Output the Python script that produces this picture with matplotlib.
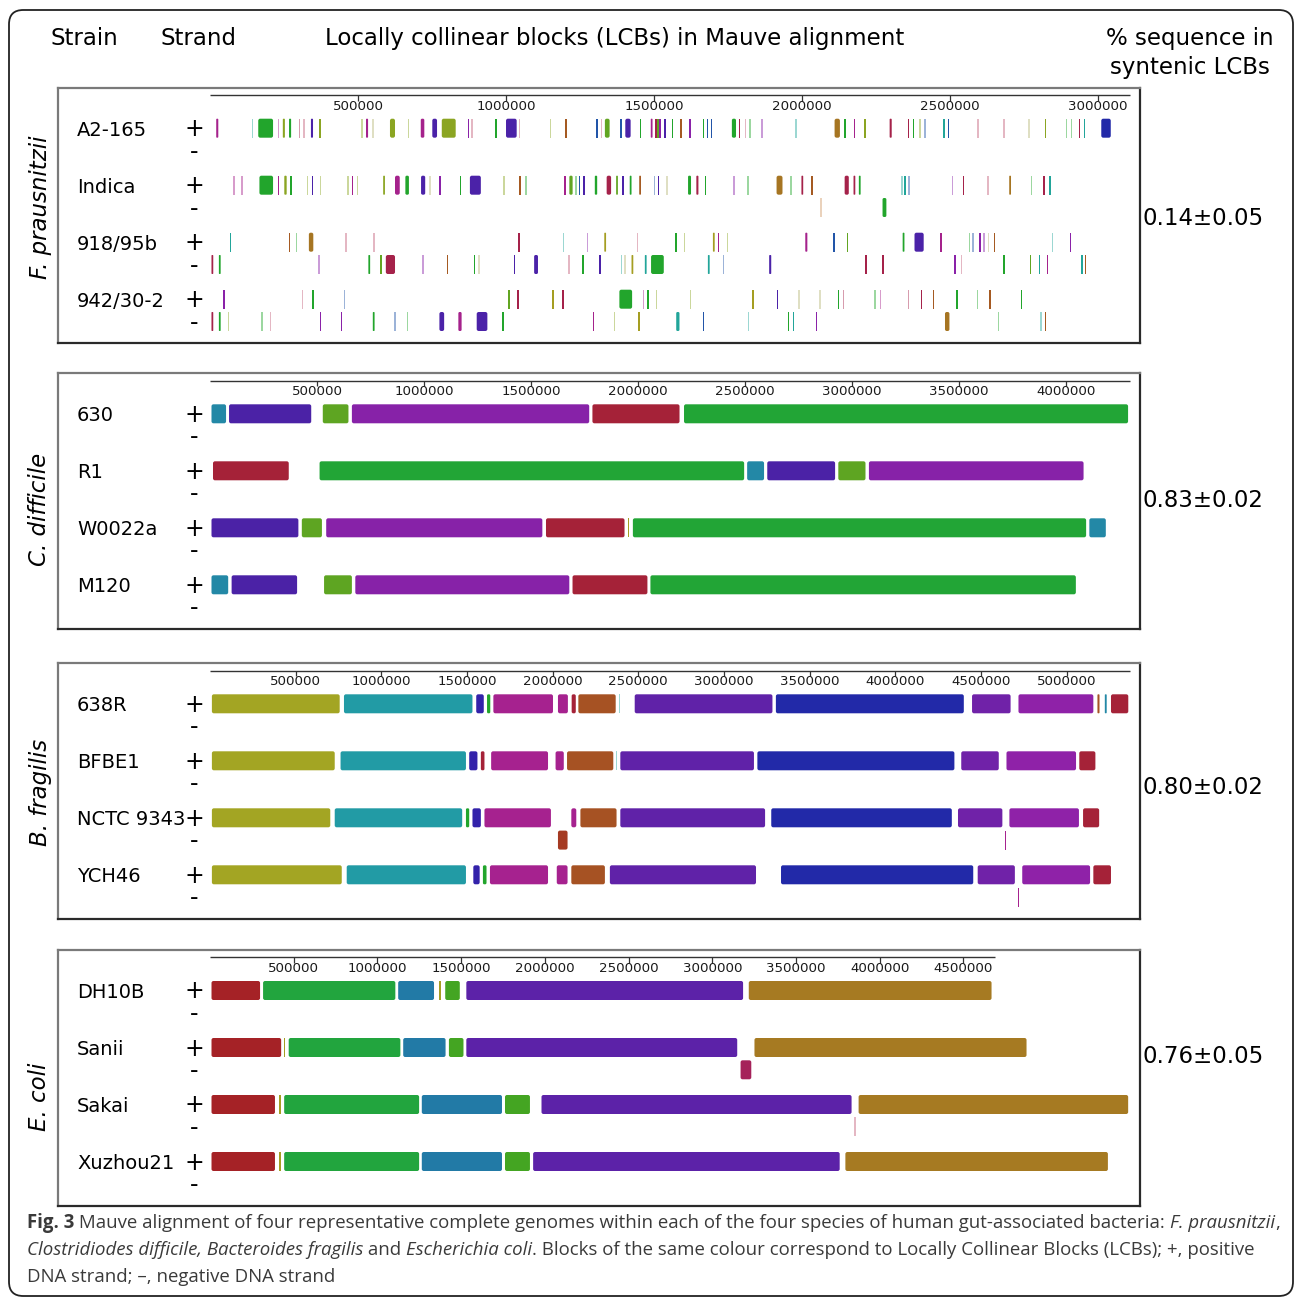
import matplotlib
matplotlib.use("Agg")
import matplotlib.pyplot as plt
from matplotlib.patches import FancyBboxPatch
from matplotlib.colors import to_rgb
from matplotlib.font_manager import FontProperties

# ======================= DATA =======================
species = ["F. prausnitzii", "C. difficile", "B. fragilis", "E. coli"]
syntenic_pct = ["0.14\u00b10.05", "0.83\u00b10.02", "0.80\u00b10.02", "0.76\u00b10.05"]

strains_fp = ["A2-165", "Indica", "918/95b", "942/30-2"]
strains_cd = ["630", "R1", "W0022a", "M120"]
strains_bf = ["638R", "BFBE1", "NCTC 9343", "YCH46"]
strains_ec = ["DH10B", "Sanii", "Sakai", "Xuzhou21"]

# ruler ticks (bp) and ruler length (kb) of the reference genome in each panel
ticks_fp = [500000, 1000000, 1500000, 2000000, 2500000, 3000000]
ticks_cd = [500000, 1000000, 1500000, 2000000, 2500000, 3000000, 3500000, 4000000]
ticks_bf = [500000, 1000000, 1500000, 2000000, 2500000, 3000000, 3500000, 4000000, 4500000, 5000000]
ticks_ec = [500000, 1000000, 1500000, 2000000, 2500000, 3000000, 3500000, 4000000, 4500000]
ruler_len_kb = [3108, 4299, 5370, 4687]
# genomic extent (kb) shown across the common drawing width of each panel
span_kb = [3108, 4299, 5370, 5495]

# LCB segments: (start_kb, end_kb, colour key); start == end marks a tiny block
fp_a2165_plus = [(21, 28, 'magenta'), (143, 143, 'teal_l'), (163, 213, 'green'), (231, 231, 'magenta_l'),
                 (246, 253, 'olive'), (267, 274, 'green'), (302, 302, 'crimson_l'), (318, 318, 'pink_l'),
                 (341, 348, 'indigo'), (371, 371, 'olive'), (514, 514, 'olive_l'), (527, 534, 'magenta'),
                 (550, 550, 'beige_l'), (608, 625, 'olive'), (670, 670, 'olive_l'), (712, 724, 'magenta'),
                 (751, 767, 'indigo'), (783, 830, 'olive'), (873, 873, 'purple'), (885, 885, 'pink_l'),
                 (967, 967, 'green'), (1000, 1036, 'indigo'), (1046, 1046, 'pink_l'), (1150, 1150, 'olive_l'),
                 (1200, 1205, 'brown'), (1308, 1308, 'blue'), (1322, 1322, 'pink_l'), (1334, 1350, 'olivegreen'),
                 (1389, 1389, 'blue'), (1403, 1421, 'indigo'), (1455, 1455, 'green'), (1489, 1495, 'magenta'),
                 (1507, 1507, 'crimson'), (1513, 1513, 'olivegreen'), (1521, 1521, 'purple'), (1537, 1537, 'indigo'),
                 (1563, 1563, 'green'), (1591, 1591, 'brown'), (1622, 1622, 'purple'), (1667, 1667, 'green'),
                 (1681, 1681, 'blue'), (1695, 1695, 'blue'), (1763, 1777, 'green'), (1789, 1789, 'crimson'),
                 (1809, 1809, 'pink_l'), (1824, 1824, 'green_l'), (1865, 1865, 'purple_l'), (1980, 1980, 'teal_l'),
                 (2110, 2128, 'gold'), (2145, 2145, 'green'), (2177, 2177, 'magenta'), (2212, 2212, 'olive'),
                 (2296, 2303, 'crimson'), (2359, 2359, 'crimson'), (2376, 2376, 'green'), (2398, 2398, 'olive_l'),
                 (2415, 2415, 'blue_l'), (2479, 2479, 'teal'), (2495, 2495, 'blue'), (2594, 2594, 'pink_l'),
                 (2682, 2682, 'pink_l'), (2767, 2767, 'beige_l'), (2822, 2822, 'olive'), (2894, 2894, 'green_l'),
                 (2911, 2911, 'green_l'), (2937, 2937, 'crimson'), (2955, 2955, 'teal'), (3011, 3043, 'navy')]
fp_a2165_minus = []

fp_indica_plus = [(81, 81, 'magenta_l'), (108, 108, 'magenta_l'), (167, 213, 'green'), (232, 232, 'magenta'),
                  (251, 259, 'olive'), (273, 273, 'green'), (329, 329, 'olive_l'), (347, 347, 'indigo'),
                  (373, 373, 'olive_l'), (467, 467, 'olive_l'), (481, 481, 'magenta'), (498, 498, 'olive_l'),
                  (585, 591, 'olive'), (625, 641, 'magenta'), (660, 672, 'green'), (713, 727, 'indigo'),
                  (744, 744, 'beige_l'), (777, 777, 'purple'), (846, 846, 'green'), (878, 915, 'indigo'),
                  (994, 994, 'olive_l'), (1048, 1048, 'brown'), (1067, 1067, 'green_l'), (1200, 1200, 'magenta'),
                  (1214, 1225, 'olivegreen'), (1236, 1236, 'green_l'), (1248, 1248, 'blue'), (1261, 1266, 'indigo'),
                  (1300, 1308, 'green'), (1340, 1355, 'crimson'), (1372, 1378, 'olivegreen'), (1393, 1398, 'indigo'),
                  (1418, 1424, 'green'), (1450, 1456, 'brown'), (1501, 1501, 'blue_l'), (1513, 1516, 'indigo'),
                  (1544, 1544, 'beige_l'), (1615, 1625, 'green'), (1643, 1650, 'crimson'), (1674, 1674, 'green'),
                  (1771, 1771, 'purple_l'), (1818, 1818, 'green_l'), (1914, 1934, 'gold'), (1962, 1962, 'green_l'),
                  (1998, 2004, 'crimson'), (2033, 2033, 'brown'), (2144, 2158, 'crimson'), (2174, 2180, 'crimson'),
                  (2192, 2198, 'green'), (2337, 2337, 'teal_l'), (2348, 2348, 'teal'), (2362, 2362, 'blue_l'),
                  (2508, 2508, 'purple_l'), (2545, 2545, 'crimson'), (2628, 2628, 'pink_l'), (2700, 2706, 'gold'),
                  (2776, 2776, 'green_l'), (2818, 2818, 'crimson'), (2837, 2837, 'teal')]
fp_indica_minus = [(2064, 2064, 'peach_l'), (2272, 2285, 'green')]

fp_918_plus = [(69, 69, 'teal'), (268, 268, 'brown'), (293, 293, 'green_l'), (334, 349, 'gold'),
               (460, 460, 'pink_l'), (554, 554, 'pink_l'), (1044, 1044, 'crimson'), (1194, 1194, 'teal_l'),
               (1275, 1275, 'purple_l'), (1332, 1338, 'yolive'), (1445, 1445, 'pink_l'), (1574, 1574, 'green'),
               (1603, 1603, 'olive_l'), (1699, 1705, 'yolive'), (1716, 1721, 'magenta'), (1748, 1748, 'olive_l'),
               (2011, 2018, 'magenta'), (2105, 2110, 'blue'), (2154, 2154, 'olivegreen'), (2340, 2346, 'green'),
               (2380, 2411, 'indigo'), (2470, 2470, 'magenta'), (2565, 2565, 'green_l'), (2577, 2577, 'blue_l'),
               (2602, 2602, 'purple'), (2615, 2615, 'purple_l'), (2630, 2630, 'beige_l'), (2650, 2650, 'brown'),
               (2846, 2846, 'teal_l'), (2907, 2907, 'purple')]
fp_918_minus = [(5, 11, 'crimson'), (30, 36, 'green'), (369, 369, 'purple_l'), (535, 541, 'green'),
                (575, 580, 'olivegreen'), (594, 625, 'crimson'), (720, 720, 'purple_l'), (803, 803, 'brown'),
                (893, 893, 'green'), (909, 909, 'beige_l'), (1029, 1029, 'indigo'), (1095, 1108, 'indigo'),
                (1213, 1213, 'pink_l'), (1260, 1260, 'green'), (1318, 1318, 'indigo'), (1390, 1390, 'teal_l'),
                (1402, 1402, 'beige_l'), (1424, 1430, 'yolive'), (1469, 1475, 'teal'), (1490, 1533, 'green'),
                (1682, 1688, 'teal'), (1734, 1734, 'blue_l'), (1889, 1896, 'indigo'), (2216, 2216, 'crimson'),
                (2273, 2273, 'crimson'), (2516, 2516, 'purple'), (2539, 2539, 'pink_l'), (2682, 2682, 'green'),
                (2772, 2772, 'olivegreen'), (2803, 2803, 'teal'), (2829, 2829, 'magenta'), (2946, 2946, 'teal'),
                (2957, 2957, 'brown')]

fp_942_plus = [(48, 48, 'purple'), (312, 312, 'pink_l'), (348, 348, 'green'), (454, 454, 'blue_l'),
               (1008, 1013, 'olivegreen'), (1040, 1040, 'crimson'), (1159, 1159, 'yolive'), (1190, 1194, 'crimson'),
               (1383, 1426, 'green'), (1465, 1465, 'magenta_l'), (1479, 1479, 'green'), (1509, 1509, 'olive_l'),
               (1623, 1623, 'olive_l'), (1834, 1834, 'yolive'), (1917, 1917, 'indigo'), (1990, 1990, 'beige_l'),
               (2061, 2061, 'beige_l'), (2124, 2124, 'green'), (2140, 2140, 'crimson_l'), (2247, 2247, 'green_l'),
               (2265, 2265, 'magenta_l'), (2359, 2359, 'crimson_l'), (2404, 2404, 'crimson'), (2445, 2445, 'brown'),
               (2523, 2523, 'green'), (2593, 2593, 'green_l'), (2632, 2637, 'brown'), (2742, 2742, 'green')]
fp_942_minus = [(5, 11, 'crimson'), (30, 36, 'green'), (62, 62, 'olive_l'), (175, 175, 'green_l'),
                (204, 204, 'pink_l'), (373, 373, 'purple'), (444, 444, 'purple'), (550, 556, 'green'),
                (625, 625, 'blue_l'), (668, 668, 'green_l'), (775, 791, 'indigo'), (839, 850, 'magenta'),
                (901, 937, 'indigo'), (990, 990, 'green'), (1296, 1296, 'magenta'), (1366, 1366, 'olive_l'),
                (1447, 1452, 'yolive'), (1575, 1586, 'teal'), (1667, 1667, 'blue'), (1819, 1819, 'teal_l'),
                (1955, 1955, 'green'), (1968, 1973, 'teal'), (2049, 2049, 'purple'), (2483, 2498, 'gold'),
                (2664, 2664, 'green_l'), (2807, 2807, 'teal_l'), (2820, 2825, 'brown')]

cd_630_plus = [(7, 75, 'cd_teal'), (89, 473, 'cd_indigo'), (527, 647, 'cd_olivegreen'), (663, 1772, 'cd_purple'),
               (1787, 2194, 'cd_crimson'), (2215, 4290, 'cd_green')]
cd_r1_plus = [(14, 368, 'cd_crimson'), (512, 2496, 'cd_green'), (2510, 2589, 'cd_teal'), (2604, 2921, 'cd_indigo'),
              (2936, 3063, 'cd_olivegreen'), (3079, 4082, 'cd_purple')]
cd_w0022a_plus = [(7, 413, 'cd_indigo'), (429, 523, 'cd_olivegreen'), (543, 1553, 'cd_purple'),
                  (1570, 1937, 'cd_crimson'), (1952, 1957, 'yolive'), (1976, 4094, 'cd_green'), (4109, 4186, 'cd_teal')]
cd_m120_plus = [(7, 85, 'cd_teal'), (101, 407, 'cd_indigo'), (533, 663, 'cd_olivegreen'), (679, 1679, 'cd_purple'),
                (1694, 2044, 'cd_crimson'), (2058, 4046, 'cd_green')]

bf_638r_plus = [(11, 757, 'bf_olive'), (782, 1532, 'bf_teal'), (1554, 1598, 'bf_indigo'), (1617, 1636, 'green'),
                (1654, 2002, 'bf_magenta'), (2031, 2089, 'bf_magenta'), (2111, 2135, 'cd_crimson'),
                (2150, 2368, 'bf_brown'), (2389, 2389, 'teal_l'), (2479, 3283, 'bf_purple'), (3303, 4400, 'bf_navy'),
                (4448, 4673, 'bf_violet'), (4719, 5156, 'bf_magpurple'), (5180, 5192, 'bf_brown'),
                (5223, 5234, 'cd_teal'), (5259, 5360, 'cd_crimson')]
bf_bfbe1_plus = [(11, 728, 'bf_olive'), (762, 1494, 'bf_teal'), (1513, 1561, 'bf_indigo'), (1581, 1602, 'cd_crimson'),
                 (1641, 1973, 'bf_magenta'), (2017, 2065, 'bf_magenta'), (2084, 2354, 'bf_brown'),
                 (2373, 2373, 'teal_l'), (2395, 3175, 'bf_purple'), (3195, 4345, 'bf_navy'), (4385, 4604, 'bf_violet'),
                 (4649, 5055, 'bf_magpurple'), (5074, 5168, 'cd_crimson')]
bf_nctc_plus = [(11, 702, 'bf_olive'), (728, 1472, 'bf_teal'), (1494, 1513, 'green'), (1532, 1581, 'bf_indigo'),
                (1602, 1990, 'bf_magenta'), (2109, 2138, 'bf_magenta'), (2162, 2373, 'bf_brown'),
                (2395, 3240, 'bf_purple'), (3276, 4330, 'bf_navy'), (4366, 4625, 'bf_violet'),
                (4666, 5072, 'bf_magpurple'), (5096, 5190, 'cd_crimson')]
bf_nctc_minus = [(2031, 2087, 'bf_rust'), (4644, 4644, 'bf_magenta')]
bf_ych46_plus = [(11, 769, 'bf_olive'), (798, 1494, 'bf_teal'), (1537, 1574, 'bf_indigo'), (1593, 1614, 'green'),
                 (1634, 1973, 'bf_magenta'), (2024, 2087, 'bf_magenta'), (2109, 2305, 'bf_brown'),
                 (2334, 3187, 'bf_purple'), (3333, 4455, 'bf_navy'), (4481, 4698, 'bf_violet'),
                 (4741, 5137, 'bf_magpurple'), (5156, 5259, 'cd_crimson')]
bf_ych46_minus = [(4719, 4719, 'bf_magenta')]

ec_dh10b_plus = [(9, 299, 'ec_crimson'), (317, 1107, 'ec_green'), (1124, 1338, 'ec_blue'), (1370, 1376, 'yolive'),
                 (1405, 1492, 'ec_lime'), (1531, 3184, 'ec_purple'), (3218, 4668, 'ec_gold')]
ec_sanii_plus = [(9, 425, 'ec_crimson'), (442, 448, 'yolive'), (470, 1137, 'ec_green'), (1154, 1407, 'ec_blue'),
                 (1427, 1514, 'ec_lime'), (1531, 3149, 'ec_purple'), (3252, 4877, 'ec_gold')]
ec_sanii_minus = [(3169, 3233, 'ec_magenta')]
ec_sakai_plus = [(9, 388, 'ec_crimson'), (414, 421, 'yolive'), (443, 1249, 'ec_green'), (1265, 1744, 'ec_blue'),
                 (1762, 1911, 'ec_lime'), (1980, 3832, 'ec_purple'), (3874, 5484, 'ec_gold')]
ec_sakai_minus = [(3852, 3852, 'pink_l')]
ec_xuzhou_plus = [(9, 388, 'ec_crimson'), (414, 421, 'yolive'), (443, 1249, 'ec_green'), (1265, 1744, 'ec_blue'),
                  (1762, 1911, 'ec_lime'), (1930, 3761, 'ec_purple'), (3795, 5363, 'ec_gold')]

caption_line1 = [("Fig. 3", "b"),
                 (" Mauve alignment of four representative complete genomes within each of the four species of human gut-associated bacteria: ", "r"),
                 ("F. prausnitzii", "i"), (",", "r")]
caption_line2 = [("Clostridiodes difficile, Bacteroides fragilis", "i"), (" and ", "r"), ("Escherichia coli", "i"),
                 (". Blocks of the same colour correspond to Locally Collinear Blocks (LCBs); +, positive", "r")]
caption_line3 = [("DNA strand; \u2013, negative DNA strand", "r")]

# ======================= STYLE =======================
BASE = {
    'green': '#22a52c', 'olive': '#8ba522', 'yolive': '#a59e22', 'olivegreen': '#62a522',
    'magenta': '#a5228c', 'indigo': '#4b22a8', 'purple': '#8a22a8', 'crimson': '#a5224a',
    'brown': '#a55a22', 'gold': '#a67522', 'teal': '#22a59a', 'blue': '#2255a8', 'navy': '#2229a8',
    'pink': '#c4607a', 'beige': '#b8b87a', 'peach': '#d09a6a',
    'cd_teal': '#2388a6', 'cd_indigo': '#4b22a6', 'cd_olivegreen': '#5ea522', 'cd_purple': '#8722a8',
    'cd_crimson': '#a52238', 'cd_green': '#22a536',
    'bf_olive': '#a3a523', 'bf_teal': '#229ba5', 'bf_indigo': '#3322aa', 'bf_magenta': '#a6228f',
    'bf_brown': '#a65223', 'bf_rust': '#a53a22', 'bf_purple': '#6022a8', 'bf_navy': '#2229a8',
    'bf_violet': '#7022a8', 'bf_magpurple': '#8f22a8',
    'ec_crimson': '#a52226', 'ec_green': '#22a53e', 'ec_blue': '#227aa6', 'ec_lime': '#44a522',
    'ec_purple': '#5c22a8', 'ec_gold': '#a67a22', 'ec_magenta': '#a5225a',
}


def colour(key):
    if key.endswith('_l'):
        r, g, b = to_rgb(BASE[key[:-2]])
        a = 0.45
        return (1 - a + a * r, 1 - a + a * g, 1 - a + a * b)
    return BASE[key]


W, H, DPI = 1295, 1297, 100
fig = plt.figure(figsize=(W / DPI, H / DPI), dpi=DPI)
fig.patch.set_facecolor('white')
renderer = fig.canvas.get_renderer()


def fx(px):
    return px / W


def fy(py):
    return 1 - py / H


# outer rounded frame
frame = FancyBboxPatch((fx(9), fy(1296)), fx(1293) - fx(9), fy(10) - fy(1296),
                       boxstyle="round,pad=0,rounding_size=0.011", transform=fig.transFigure,
                       facecolor='none', edgecolor='#222222', linewidth=1.3)
fig.add_artist(frame)

# header
HDR = 16.5
fig.text(fx(50), fy(45), "Strain", fontsize=HDR, va='baseline', ha='left')
fig.text(fx(160), fy(45), "Strand", fontsize=HDR, va='baseline', ha='left')
fig.text(fx(325), fy(45), "Locally collinear blocks (LCBs) in Mauve alignment", fontsize=HDR, va='baseline', ha='left')
fig.text(fx(1190), fy(45), "% sequence in", fontsize=HDR, va='baseline', ha='center')
fig.text(fx(1190), fy(74), "syntenic LCBs", fontsize=HDR, va='baseline', ha='center')

panels = [
    (strains_fp, [(fp_a2165_plus, fp_a2165_minus), (fp_indica_plus, fp_indica_minus),
                  (fp_918_plus, fp_918_minus), (fp_942_plus, fp_942_minus)], ticks_fp),
    (strains_cd, [(cd_630_plus, []), (cd_r1_plus, []), (cd_w0022a_plus, []), (cd_m120_plus, [])], ticks_cd),
    (strains_bf, [(bf_638r_plus, []), (bf_bfbe1_plus, []), (bf_nctc_plus, bf_nctc_minus),
                  (bf_ych46_plus, bf_ych46_minus)], ticks_bf),
    (strains_ec, [(ec_dh10b_plus, []), (ec_sanii_plus, ec_sanii_minus), (ec_sakai_plus, ec_sakai_minus),
                  (ec_xuzhou_plus, [])], ticks_ec),
]

panel_top = [87.7, 373.3, 663.3, 950.0]
PANEL_H = 255.6
BOX_L, BOX_R = 58.0, 1140.3
ORIGIN, AX_END = 210.0, 1130.0
PITCH = 57.0          # px per strain row
ROW0 = 40.5           # px from panel top to first row
MINUS = 22.3 / PITCH  # row offset of the minus strand
BAR_H = 19.0 / PITCH
RULER = 7.5           # px from panel top
species_y = [207, 509, 792, 1097]
pct_base = [225, 507.3, 794, 1063.3]

# "+" / "-" drawn as one two-line text; line spacing chosen to match strand offset
PM_SIZE = 17
pm_prop = FontProperties(family='DejaVu Sans', size=PM_SIZE)
lp_w, lp_h, lp_d = renderer.get_text_width_height_descent("lp", pm_prop, ismath=False)
PM_GAP = 22.6
pm_ls = (PM_GAP - lp_d) / (lp_h - lp_d)

for p, (names, rows, ticks) in enumerate(panels):
    top = panel_top[p]
    ax = fig.add_axes([fx(BOX_L), fy(top + PANEL_H), (BOX_R - BOX_L) / W, PANEL_H / H])
    f = span_kb[p] / (AX_END - ORIGIN)          # kb per px
    ax.set_xlim(-(ORIGIN - BOX_L) * f, (BOX_R - ORIGIN) * f)
    ytop = -ROW0 / PITCH
    ax.set_ylim(ytop + PANEL_H / PITCH, ytop)
    ax.set_xticks([])
    ax.set_yticks([])
    for side in ('top', 'left'):
        ax.spines[side].set_color('#7a7a7a')
        ax.spines[side].set_linewidth(1.6)
    for side in ('bottom', 'right'):
        ax.spines[side].set_color('#2a2a2a')
        ax.spines[side].set_linewidth(1.6)

    # ruler
    yr = ytop + RULER / PITCH
    ax.plot([0, ruler_len_kb[p]], [yr, yr], color='#333333', lw=1.0, solid_capstyle='butt')
    tk = [t / 1000 for t in ticks]
    ax.vlines(tk, yr, yr + 5.5 / PITCH, color='#333333', lw=0.9)
    for t, tkb in zip(ticks, tk):
        ax.text(tkb, yr + 11 / PITCH, str(t), ha='center', va='center', fontsize=9.6, color='#1a1a1a')

    minw = 1.5 * f
    rnd = 2.0 * f
    masp = (1.0 / PITCH) / f
    for r, (plus, minus) in enumerate(rows):
        for strand_y, marks in ((r, plus), (r + MINUS, minus)):
            for s, e, c in marks:
                w = e - s
                if w < minw:
                    x0, w = (s + e) / 2 - minw / 2, minw
                    ax.broken_barh([(x0, w)], (strand_y - BAR_H / 2, BAR_H), facecolors=colour(c),
                                   edgecolors='none', linewidth=0)
                else:
                    rs = min(rnd, w / 2.5)
                    patch = FancyBboxPatch((s, strand_y - BAR_H / 2), w, BAR_H,
                                           boxstyle=f"round,pad=0,rounding_size={rs}",
                                           mutation_aspect=masp, facecolor=colour(c),
                                           edgecolor='none', linewidth=0)
                    ax.add_patch(patch)
        # labels (x given in px from the left of the figure, converted to data)
        ax.text((77 - ORIGIN) * f, r + 7.5 / PITCH, names[r], fontsize=14, va='baseline', ha='left')
        # multi-line text: baseline alignment refers to the last line ("-")
        ax.text((194.5 - ORIGIN) * f, r + MINUS + 8.3 / PITCH, "+\n-", fontproperties=pm_prop,
                va='baseline', ha='center', multialignment='center', linespacing=pm_ls)

    fig.text(fx(40), fy(species_y[p]), species[p], rotation=90, fontsize=16.5, style='italic',
             ha='center', va='center')
    fig.text(fx(1143), fy(pct_base[p]), syntenic_pct[p], fontsize=16.5, ha='left', va='baseline')

# caption with mixed styles
CAP_FONT = ['Open Sans', 'DejaVu Sans']
CAP_COL = '#3a3a3a'


def fp_for(style, size):
    return FontProperties(family=CAP_FONT, size=size,
                          weight='bold' if style == 'b' else 'normal',
                          style='italic' if style == 'i' else 'normal')


def seg_width(txt, style, size):
    prop = fp_for(style, size)
    w1 = renderer.get_text_width_height_descent("|" + txt + "|", prop, ismath=False)[0]
    w0 = renderer.get_text_width_height_descent("||", prop, ismath=False)[0]
    return w1 - w0


ref = 10.0
w_ref = sum(seg_width(t, s, ref) for t, s in caption_line1)
cap_size = ref * (1278 - 27) / w_ref

for line, base in ((caption_line1, 1228), (caption_line2, 1255), (caption_line3, 1282)):
    x = 27.0
    for txt, style in line:
        fig.text(fx(x), fy(base), txt, fontproperties=fp_for(style, cap_size), color=CAP_COL,
                 ha='left', va='baseline')
        x += seg_width(txt, style, cap_size)

fig.savefig("out.png", dpi=DPI, facecolor='white')
